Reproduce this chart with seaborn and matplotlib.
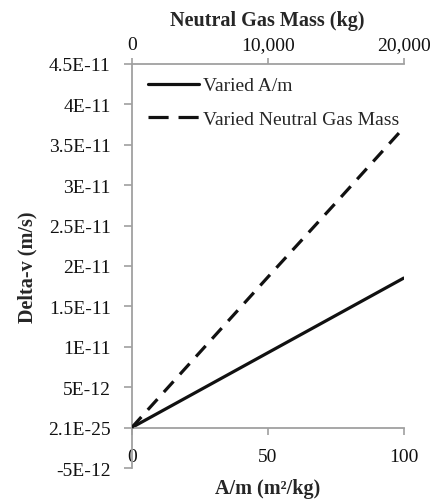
import pandas as pd
import seaborn as sns
import matplotlib.pyplot as plt
from matplotlib.ticker import FixedLocator, FixedFormatter
from matplotlib.lines import Line2D

# values
area_to_mass = [0, 20, 40, 60, 80, 100]
dv_area = [0, 3.7e-12, 7.4e-12, 1.11e-11, 1.48e-11, 1.85e-11]

gas_mass = [0, 5000, 10000, 15000, 20000]
dv_mass = [0, 9.3e-12, 1.86e-11, 2.78e-11, 3.71e-11]

y_ticks = [-5e-12, 0, 5e-12, 1e-11, 1.5e-11, 2e-11, 2.5e-11, 3e-11, 3.5e-11, 4e-11, 4.5e-11]
y_tick_labels = ["-5E-12", "2.1E-25", "5E-12", "1E-11", "1.5E-11", "2E-11",
                 "2.5E-11", "3E-11", "3.5E-11", "4E-11", "4.5E-11"]
bottom_ticks = [0, 50, 100]
top_ticks = [0, 10000, 20000]
top_tick_labels = ["0", "10,000", "20,000"]

df_area = pd.DataFrame({"am": area_to_mass, "dv": dv_area})
df_mass = pd.DataFrame({"mass": gas_mass, "dv": dv_mass})

sns.set_theme(style="white")
plt.rcParams["font.family"] = ["Liberation Serif", "DejaVu Serif"]
plt.rcParams["font.size"] = 14

grey = "#a0a0a0"
line_col = "#111111"
dash = (0, (4.5, 3))

fig = plt.figure(figsize=(4.38, 5.02), dpi=100)
ax = fig.add_axes([0.3007, 0.0657, 0.621, 0.805])
ax2 = ax.twiny()

sns.lineplot(data=df_area, x="am", y="dv", ax=ax, color=line_col, linewidth=2.3)
sns.lineplot(data=df_mass, x="mass", y="dv", ax=ax2, color=line_col,
             linewidth=2.3, linestyle=dash)

ax.set_xlim(0, 100)
ax2.set_xlim(0, 20000)
ax.set_ylim(-5e-12, 4.5e-11)

# spines
ax.spines["bottom"].set_position(("data", 0))
for s in ["top", "right"]:
    ax.spines[s].set_visible(False)
for s in ["left", "right", "bottom"]:
    ax2.spines[s].set_visible(False)
for a, s in [(ax, "left"), (ax, "bottom"), (ax2, "top")]:
    a.spines[s].set_color(grey)
    a.spines[s].set_linewidth(1.3)

ax.yaxis.set_major_locator(FixedLocator(y_ticks))
ax.yaxis.set_major_formatter(FixedFormatter(y_tick_labels))
ax.xaxis.set_major_locator(FixedLocator(bottom_ticks))
ax2.xaxis.set_major_locator(FixedLocator(top_ticks))
ax2.xaxis.set_major_formatter(FixedFormatter(top_tick_labels))

ax.tick_params(axis="y", left=True, direction="out", length=6, width=1.2,
               color=grey, pad=9, labelsize=14, labelcolor="#111111")
ax.tick_params(axis="x", bottom=True, direction="out", length=5, width=1.2,
               color=grey, pad=10, labelsize=14, labelcolor="#111111")
ax2.tick_params(axis="x", top=True, direction="out", length=4, width=1.2,
                color=grey, pad=3.5, labelsize=14, labelcolor="#111111")

ax.set_xlabel("A/m (m²/kg)", fontweight="bold", fontsize=14.5, labelpad=9)
ax.set_ylabel("Delta-v (m/s)", fontweight="bold", fontsize=14.5, labelpad=8)
ax2.set_xlabel("Neutral Gas Mass (kg)", fontweight="bold", fontsize=14.5, labelpad=8)

# one legend for both series
if ax.get_legend():
    ax.get_legend().remove()
handles = [Line2D([], [], color=line_col, lw=2.3),
           Line2D([], [], color=line_col, lw=2.3, linestyle=(0, (6.3, 3.1)))]
ax2.legend(handles, ["Varied A/m", "Varied Neutral Gas Mass"], loc="upper left",
           bbox_to_anchor=(0.06, 0.968), borderaxespad=0, borderpad=0,
           frameon=False, fontsize=14, handlelength=2.6, handletextpad=0.25,
           labelspacing=0.8)

fig.savefig("out.png", dpi=100)
